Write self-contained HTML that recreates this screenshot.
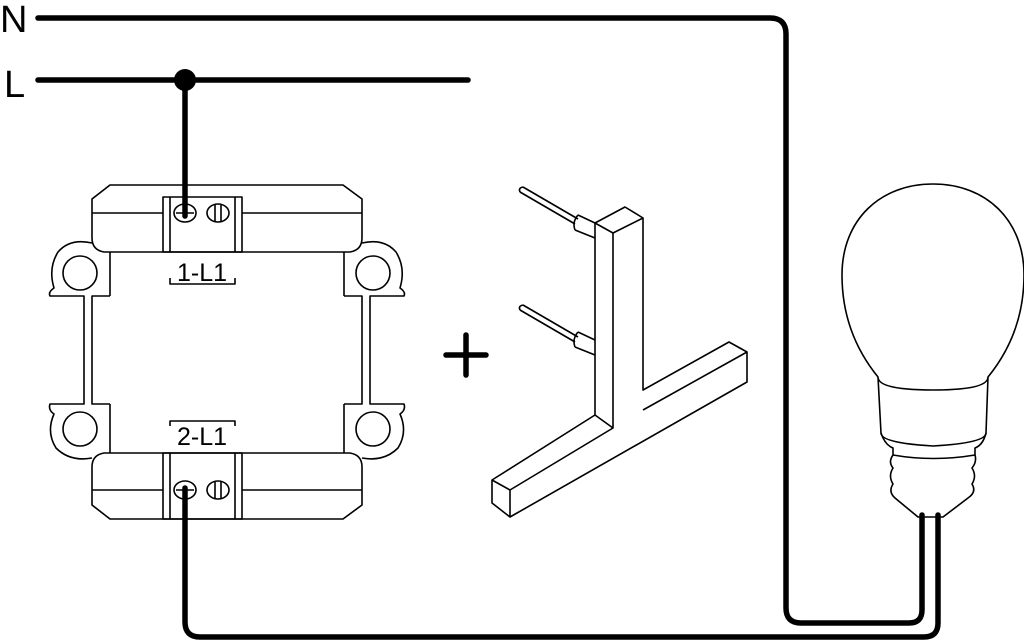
<!DOCTYPE html>
<html><head><meta charset="utf-8"><style>
html,body{margin:0;padding:0;background:#fff;}
svg{display:block;}
text{font-family:"Liberation Sans",sans-serif;fill:#000;}
</style></head><body>
<svg width="1024" height="644" viewBox="0 0 1024 644" xmlns="http://www.w3.org/2000/svg">
<g fill="none" stroke="#000" stroke-linecap="round" stroke-linejoin="round">
<path d="M38 18 H770 Q786 18 786 34 V608 Q786 623 801 623 H909 Q922 623 922 610 V515" stroke-width="5.5"/>
<path d="M38 80 H468" stroke-width="5.5"/>
<path d="M185 80 V216" stroke-width="5.5"/>
<path d="M185 488 V622 Q185 637 200 637 H924 Q938 637 938 623 V515" stroke-width="5.5"/>
</g>
<circle cx="185" cy="80" r="11" fill="#000"/>
<text x="0" y="32" font-size="38">N</text>
<text x="4" y="97" font-size="38">L</text>

<g fill="none" stroke="#000" stroke-width="1.6" stroke-linejoin="round">
<path d="M110 252 V296 M110 404 V453 M344 252 V296 M344 404 V453"/>
<path d="M110 185 H343 L362 199 V238 Q362 250 350 252 H104 Q92 250 92 238 V199 Z"/>
<path d="M92 213 H163 M242 213 H362"/>
<rect x="163" y="197" width="79" height="55"/>
<path d="M170 197 V252 M235 197 V252"/>
<path d="M104 453 H350 Q362 455 362 467 V505 L343 519 H110 L92 505 V467 Q92 455 104 453 Z"/>
<path d="M92 490 H163 M242 490 H362"/>
<rect x="163" y="453" width="79" height="66"/>
<path d="M170 453 V519 M235 453 V519"/>
<ellipse cx="185" cy="213" rx="11" ry="9"/><ellipse cx="218" cy="213" rx="11" ry="9"/>
<path d="M176 213 H194 M215 205 V221 M221 205 V221"/>
<ellipse cx="185" cy="490" rx="11" ry="9"/><ellipse cx="218" cy="490" rx="11" ry="9"/>
<path d="M176 490 H194 M215 482 V498 M221 482 V498"/>
<path d="M92 243 Q70 238 58 252 Q48 268 54 288 Q48 292 50 296 H84 V404 H50 Q48 410 54 414 Q46 432 56 448 Q70 462 92 458"/>
<path d="M110 296 H92 V404 H110"/>
<circle cx="80" cy="273" r="17"/><circle cx="80" cy="429" r="17"/>
<path d="M362 243 Q384 238 396 252 Q406 268 400 288 Q406 292 404 296 H370 V404 H404 Q406 410 400 414 Q408 432 398 448 Q384 462 362 458"/>
<path d="M344 296 H362 V404 H344"/>
<circle cx="373" cy="273" r="17"/><circle cx="373" cy="429" r="17"/>
<path d="M170 278 V284 H235 V278"/>
<path d="M170 426 V421 H235 V426"/>
</g>
<text x="177" y="281" font-size="25">1-L1</text>
<text x="177" y="445" font-size="25">2-L1</text>

<path d="M466 335 V375 M446 355 H486" stroke="#000" stroke-width="5.5" stroke-linecap="round"/>

<g fill="none" stroke="#000" stroke-width="1.6" stroke-linejoin="round">
<path d="M523 187 L578 219 M520 192 L575 224 M523 187 Q518 188 520 192"/>
<path d="M578 215 L595 223 M575 230 L595 238 M578 215 Q572 222 575 230"/>
<path d="M523 305 L578 337 M520 310 L575 342 M523 305 Q518 306 520 310"/>
<path d="M578 332 L595 340 M575 347 L595 355 M578 332 Q572 339 575 347"/>
<path d="M595 223 L613 233 L643 218 L625 207 Z"/>
<path d="M595 223 V415 L492 480 V503 L510 517 L747 382 V352 L729 342 L643 390 V218"/>
<path d="M613 233 V428 L510 490 V517 M492 480 L510 490 M595 415 L613 428 M643 410 L747 352"/>
</g>

<g fill="none" stroke="#000" stroke-width="1.6" stroke-linejoin="round">
<path d="M878 377 C852 345 842 310 842 275 C842 220 880 184 933 184 C986 184 1024 220 1024 275 C1024 310 1014 345 988 377"/>
<path d="M878 377 Q878 390 933 390 Q988 390 988 377 L986 433 Q986 443 933 446 Q881 443 881 433 Z"/>
<path d="M881 433 Q885 445 893 448 L893 455 Q933 462 975 455 L975 448 Q983 445 986 433"/>
<path d="M893 455 Q888 462 893 468 Q888 476 893 484 Q888 492 895 498 L918 517 H943 L968 498 Q977 492 972 484 Q977 476 972 468 Q977 462 975 455"/>
</g>
</svg>
</body></html>
